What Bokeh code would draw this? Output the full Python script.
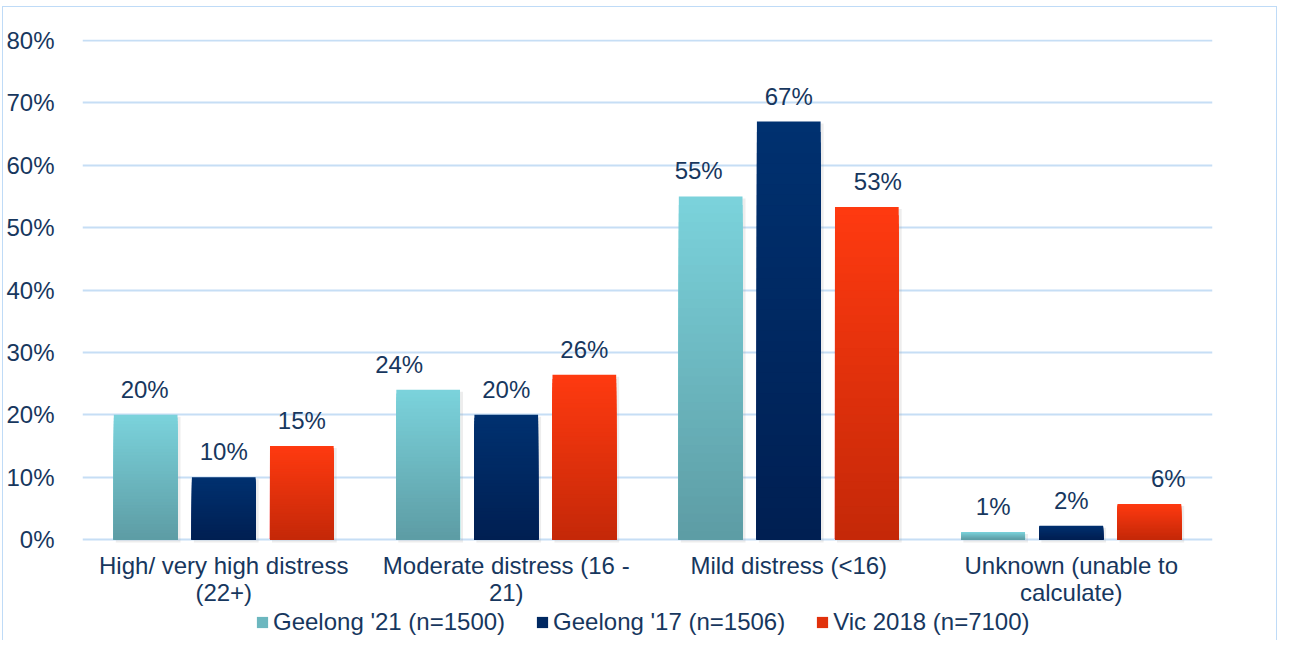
from bokeh.plotting import figure
from bokeh.models import (ColumnDataSource, Range1d, FixedTicker, PrintfTickFormatter,
                          Legend, LegendItem)
from bokeh.core.properties import value
from bokeh.embed import file_html
from bokeh.resources import INLINE

categories = ["High/ very high distress\n(22+)", "Moderate distress (16 -\n21)",
              "Mild distress (<16)", "Unknown (unable to\ncalculate)"]
series_names = ["Geelong '21 (n=1500)", "Geelong '17 (n=1506)", "Vic 2018 (n=7100)"]
geelong21 = [20.0, 24.0, 55.0, 1.2]
geelong17 = [10.0, 20.0, 67.0, 2.2]
vic2018 = [15.0, 26.4, 53.3, 5.7]
y_ticks = [0, 10, 20, 30, 40, 50, 60, 70, 80]

# style: gradient colours (top, bottom) per series, label nudges in px
grad = [((123, 211, 220), (93, 156, 164)),
        ((0, 49, 112), (0, 31, 82)),
        ((255, 58, 16), (196, 40, 8))]
label_dx = [[-1, -29, -12, 0], [0, 0, 0, 0], [0, 0, 11, 19]]

TXT = "#17375E"
FONT = "Liberation Sans"
PX = 499.0 / 80.0    # pixels per percent point
PXX = 1136.0 / 4.0   # pixels per category unit

p = figure(width=1275, height=634, output_backend="svg", toolbar_location=None,
           x_range=Range1d(0, 4), y_range=Range1d(-102.0 / PX, 80 + 1.0 / PX),
           min_border_left=73, min_border_right=66, min_border_top=32,
           min_border_bottom=0, outline_line_color=None,
           background_fill_color="white", border_fill_color="white")
p.styles = {"border": "1px solid #BFDBF7", "border-bottom": "none",
            "margin-left": "2px", "margin-top": "6px"}

p.xaxis.visible = False
p.xgrid.visible = False
p.ygrid.ticker = FixedTicker(ticks=y_ticks)
p.ygrid.grid_line_color = "#C6DEF5"
p.ygrid.grid_line_width = 2
p.yaxis.ticker = FixedTicker(ticks=y_ticks)
p.yaxis.formatter = PrintfTickFormatter(format="%d%%")
p.yaxis.axis_line_color = None
p.yaxis.major_tick_line_color = None
p.yaxis.minor_tick_line_color = None
p.yaxis.major_label_standoff = 22
p.yaxis.major_label_text_font = FONT
p.yaxis.major_label_text_font_size = "24px"
p.yaxis.major_label_text_color = TXT

bar_w = 0.2254
offsets = [-0.2764, 0.0, 0.2764]
N = 40
all_series = [geelong21, geelong17, vic2018]

# soft shadows behind the bars
sl, sr, sb, st = [], [], [], []
for s, vals in enumerate(all_series):
    for i, v in enumerate(vals):
        xc = i + 0.5 + offsets[s]
        sl.append(xc - bar_w / 2 + 2 / PXX)
        sr.append(xc + bar_w / 2 + 3 / PXX)
        sb.append(-3 / PX)
        st.append(v - 2 / PX)
p.quad(left=sl, right=sr, bottom=sb, top=st, fill_color="#9a9a9a",
       fill_alpha=0.18, line_color=None)

legend_items = []
for s, vals in enumerate(all_series):
    top_c, bot_c = grad[s]
    l, r, b, t, col = [], [], [], [], []
    for i, v in enumerate(vals):
        xc = i + 0.5 + offsets[s]
        # overlapping stacked slices drawn tallest first -> smooth vertical gradient
        for k in range(N - 1, -1, -1):
            tm = (k + 0.5) / N
            c = tuple(int(round(bot_c[j] + (top_c[j] - bot_c[j]) * tm)) for j in range(3))
            l.append(xc - bar_w / 2)
            r.append(xc + bar_w / 2)
            b.append(0.0)
            t.append(v * (k + 1) / N)
            col.append("#%02x%02x%02x" % c)
    src = ColumnDataSource(dict(left=l, right=r, bottom=b, top=t, color=col))
    rend = p.quad(left="left", right="right", bottom="bottom", top="top",
                  fill_color="color", line_color=None, source=src)
    legend_items.append(LegendItem(label=series_names[s], renderers=[rend], index=N // 2))

    lsrc = ColumnDataSource(dict(x=[i + 0.5 + offsets[s] for i in range(len(vals))],
                                 y=vals,
                                 text=["%d%%" % round(v) for v in vals],
                                 dx=label_dx[s]))
    p.text(x="x", y="y", text="text", x_offset="dx", source=lsrc,
           text_align="center", text_baseline="bottom", y_offset=-12,
           text_font=value(FONT), text_font_size="24px", text_color=TXT)

csrc = ColumnDataSource(dict(x=[i + 0.5 for i in range(len(categories))],
                             y=[0] * len(categories), text=categories))
p.text(x="x", y="y", text="text", source=csrc, text_align="center",
       text_baseline="top", y_offset=12, text_line_height=1.0,
       text_font=value(FONT), text_font_size="24px", text_color=TXT)

legend = Legend(items=legend_items, orientation="horizontal", location=(173, 5),
                label_text_font=FONT, label_text_font_size="24px", label_text_color=TXT,
                glyph_width=14, glyph_height=14, label_standoff=4, spacing=30,
                padding=0, margin=0, border_line_color=None,
                background_fill_alpha=0)
p.add_layout(legend, "center")

open("out.html", "w").write(file_html(p, INLINE))
